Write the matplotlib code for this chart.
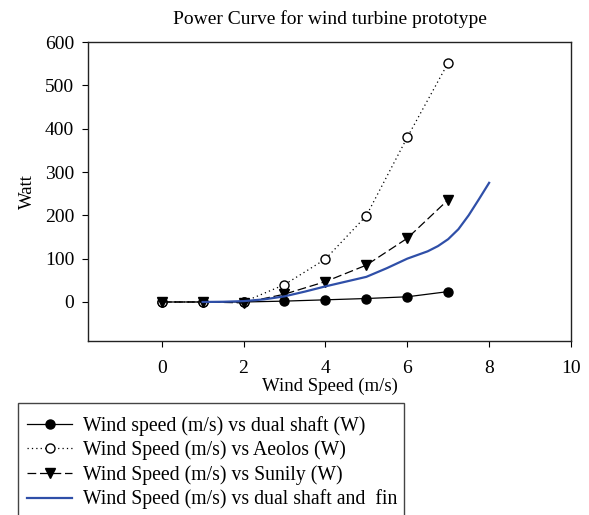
import numpy as np
import matplotlib
matplotlib.use('Agg')
import matplotlib.pyplot as plt
from matplotlib.patches import Rectangle

plt.rcParams['font.family'] = ['Liberation Serif', 'DejaVu Serif']

# data
speed = [0, 1, 2, 3, 4, 5, 6, 7]
dual_shaft = [0, 0, 0, 2, 5, 8, 12, 24]
aeolos = [0, 0, 0, 40, 99, 199, 380, 552]
sunily = [0, 0, -2, 18, 47, 85, 147, 236]

fin_speed = [1, 1.5, 2, 2.5, 3, 3.5, 4, 4.5, 5, 5.5, 6, 6.5, 6.75, 7, 7.25, 7.5, 7.75, 8]
fin_power = [0, 0.5, 2, 6, 13, 24, 36, 47, 58, 78, 100, 117, 129, 145, 168, 200, 237, 275]

fig = plt.figure(figsize=(5.89, 5.15), dpi=100)
ax = fig.add_axes([0.1494, 0.3379, 0.8200, 0.5805])

l1, = ax.plot(speed, dual_shaft, color='black', lw=0.9, marker='o', ms=6.5,
              mfc='black', mec='black', label='Wind speed (m/s) vs dual shaft (W)')
l2, = ax.plot(speed, aeolos, color='black', lw=0.9, ls=(0, (1, 2.5)), marker='o', ms=6.5,
              mfc='white', mec='black', mew=1, label='Wind Speed (m/s) vs Aeolos (W)')
l3, = ax.plot(speed, sunily, color='black', lw=0.9, ls=(0, (7, 3)), marker='v', ms=7,
              mfc='black', mec='black', label='Wind Speed (m/s) vs Sunily (W)')
l4, = ax.plot(fin_speed, fin_power, color='#2f4fa8', lw=1.6,
              label='Wind Speed (m/s) vs dual shaft and  fin')

ax.set_xlim(-1.8, 10)
ax.set_ylim(-90, 600)
ax.set_xticks([0, 2, 4, 6, 8, 10])
ax.set_yticks([0, 100, 200, 300, 400, 500, 600])
ax.tick_params(labelsize=14, direction='out', length=4, width=0.8, pad=6)
ax.tick_params(axis='x', pad=10)
for s in ax.spines.values():
    s.set_linewidth(1.0)
    s.set_color('#222222')

ax.set_xlabel('Wind Speed (m/s)', fontsize=13.5, labelpad=0)
ax.set_ylabel('Watt', fontsize=13.5, labelpad=6)
ax.set_title('Power Curve for wind turbine prototype', fontsize=14, pad=13)

# legend box runs off the bottom of the image
fig.patches.append(Rectangle((18 / 589, -0.05), (404 - 18) / 589, 1 - 403 / 515 + 0.05,
                             transform=fig.transFigure, fill=False, ec='#444444', lw=1.0))
fig.legend(handles=[l1, l2, l3, l4], loc='upper left',
           bbox_to_anchor=(27 / 589, 1 - 416 / 515), frameon=False, fontsize=14.2,
           numpoints=1, handlelength=2.3, handletextpad=0.55, labelspacing=0.24,
           borderaxespad=0, borderpad=0)

fig.savefig('out.png', dpi=100)
